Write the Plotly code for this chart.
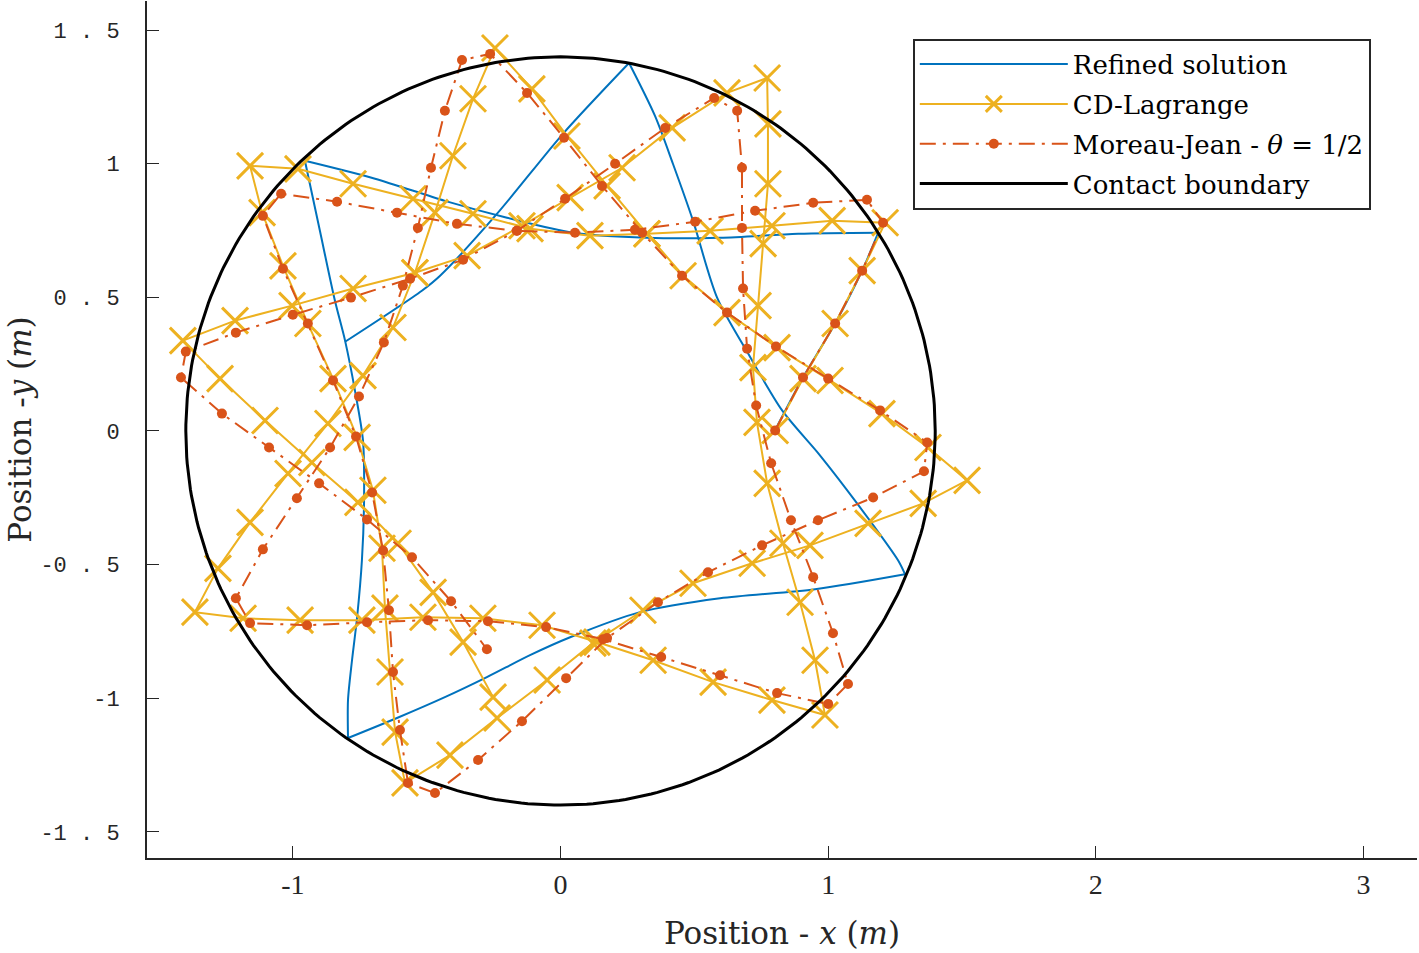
import numpy as np
import plotly.graph_objects as go

# Refined solution (blue)
refined_x = [0.80, 0.906, 1.026, 1.127, 1.187, 0.888, 0.596, 0.323, 0.047, -0.200, -0.432, -0.693,
             -0.955, -0.899, -0.843, -0.805, -0.768, -0.738, -0.734, -0.742, -0.760, -0.779, -0.794,
             -0.794, -0.611, -0.432, -0.275, -0.114, 0.036, 0.297, 0.596, 0.951, 1.287, 1.261, 1.108,
             0.970, 0.828, 0.701, 0.585, 0.495, 0.420, 0.353, 0.256, 0.009, -0.237, -0.450, -0.518,
             -0.805]
refined_y = [0.00, 0.200, 0.402, 0.600, 0.742, 0.738, 0.723, 0.723, 0.742, 0.798, 0.861, 0.944,
             1.011, 0.749, 0.488, 0.338, 0.151, -0.036, -0.260, -0.484, -0.697, -0.858, -1.007,
             -1.149, -1.074, -0.996, -0.921, -0.839, -0.772, -0.678, -0.626, -0.592, -0.536, -0.484,
             -0.271, -0.092, 0.077, 0.290, 0.499, 0.787, 1.000, 1.179, 1.377, 1.112, 0.813, 0.581,
             0.525, 0.334]
# indices of the impacts on the boundary in the refined solution
refined_impacts = [4, 12, 23, 32, 42]

# CD-Lagrange (yellow, x markers)
cd_x = [0.802, 0.906, 1.026, 1.127, 1.213, 1.015, 0.790, 0.559, 0.323, 0.110, -0.114, -0.327,
        -0.551, -0.775, -0.981, -1.160, -1.115, -1.037, -0.944, -0.850, -0.760, -0.701, -0.667,
        -0.656, -0.637, -0.618, -0.581, -0.413, -0.237, -0.050, 0.121, 0.308, 0.495, 0.716, 0.932,
        1.149, 1.355, 1.519, 1.373, 1.201, 1.007, 0.809, 0.622, 0.458, 0.323, 0.174, 0.024, -0.107,
        -0.245, -0.327, -0.402, -0.469, -0.544, -0.626, -0.738, -0.869, -1.018, -1.160, -1.280,
        -1.366, -1.186, -0.973, -0.742, -0.514, -0.290, -0.069, 0.136, 0.346, 0.570, 0.790, 0.988,
        0.951, 0.895, 0.831, 0.772, 0.734, 0.719, 0.738, 0.757, 0.775, 0.775, 0.772, 0.622, 0.417,
        0.230, 0.036, -0.144, -0.349, -0.544, -0.775, -1.003, -1.216, -1.411, -1.272, -1.104,
        -0.929, -0.757, -0.607, -0.476, -0.364, -0.252]
cd_y = [0.002, 0.196, 0.402, 0.600, 0.779, 0.787, 0.768, 0.749, 0.738, 0.731, 0.757, 0.813,
        0.869, 0.925, 0.981, 0.992, 0.817, 0.618, 0.402, 0.196, -0.024, -0.222, -0.439, -0.663,
        -0.902, -1.127, -1.317, -1.213, -1.074, -0.932, -0.794, -0.671, -0.570, -0.495, -0.428,
        -0.346, -0.271, -0.185, -0.062, 0.065, 0.189, 0.312, 0.443, 0.581, 0.738, 0.917, 1.104,
        1.280, 1.433, 1.243, 1.030, 0.817, 0.592, 0.387, 0.207, 0.028, -0.159, -0.342, -0.514,
        -0.678, -0.701, -0.708, -0.708, -0.697, -0.701, -0.727, -0.790, -0.858, -0.940, -1.007,
        -1.063, -0.858, -0.641, -0.420, -0.196, 0.032, 0.237, 0.469, 0.701, 0.925, 1.149, 1.321,
        1.265, 1.134, 0.985, 0.873, 0.768, 0.656, 0.592, 0.533, 0.469, 0.413, 0.338, 0.196, 0.039,
        -0.118, -0.267, -0.420, -0.604, -0.790, -0.996]

# Moreau-Jean theta = 1/2 (red, dots)
mj_x = [0.802, 0.906, 1.026, 1.127, 1.205, 1.145, 0.944, 0.727, 0.503, 0.278, 0.054, -0.163,
        -0.387, -0.611, -0.835, -1.044, -1.112, -1.037, -0.944, -0.850, -0.764, -0.704, -0.663,
        -0.641, -0.626, -0.600, -0.570, -0.469, -0.308, -0.144, 0.021, 0.174, 0.364, 0.551, 0.753,
        0.962, 1.168, 1.358, 1.370, 1.194, 1.000, 0.805, 0.622, 0.454, 0.305, 0.155, 0.013, -0.125,
        -0.263, -0.368, -0.432, -0.484, -0.533, -0.589, -0.660, -0.753, -0.861, -0.985, -1.112,
        -1.213, -1.160, -0.947, -0.723, -0.495, -0.271, -0.054, 0.159, 0.376, 0.596, 0.809, 1.000,
        1.074, 1.018, 0.944, 0.861, 0.787, 0.731, 0.697, 0.682, 0.678, 0.678, 0.660, 0.574, 0.391,
        0.204, 0.017, -0.163, -0.364, -0.562, -0.783, -1.000, -1.213, -1.400, -1.418, -1.265,
        -1.089, -0.902, -0.723, -0.555, -0.409, -0.275]
mj_y = [0.002, 0.200, 0.402, 0.600, 0.779, 0.865, 0.854, 0.824, 0.783, 0.753, 0.742, 0.749,
        0.775, 0.817, 0.858, 0.888, 0.805, 0.607, 0.402, 0.189, -0.021, -0.230, -0.447, -0.671,
        -0.902, -1.119, -1.317, -1.355, -1.231, -1.086, -0.925, -0.775, -0.641, -0.529, -0.428,
        -0.334, -0.249, -0.151, -0.043, 0.077, 0.196, 0.316, 0.443, 0.581, 0.742, 0.917, 1.097,
        1.265, 1.411, 1.388, 1.198, 0.985, 0.760, 0.544, 0.331, 0.129, -0.062, -0.252, -0.443,
        -0.626, -0.719, -0.727, -0.716, -0.708, -0.712, -0.734, -0.779, -0.846, -0.914, -0.981,
        -1.022, -0.947, -0.757, -0.547, -0.334, -0.121, 0.095, 0.308, 0.533, 0.760, 0.985, 1.198,
        1.246, 1.134, 1.000, 0.869, 0.749, 0.641, 0.570, 0.499, 0.435, 0.368, 0.297, 0.200, 0.065,
        -0.062, -0.196, -0.331, -0.473, -0.637, -0.817]

BOUNDARY_RADIUS = 1.4

x_ticks = [-1, 0, 1, 2, 3]
x_ticktext = ['-1', '0', '1', '2', '3']
y_ticks = [-1.5, -1, -0.5, 0, 0.5, 1, 1.5]
y_ticktext = ['-1 . 5', '-1', '-0 . 5', '0', '0 . 5', '1', '1 . 5']

BLUE = '#0072BD'
YELLOW = '#EDB120'
RED = '#D95319'
AXIS = '#262626'
SERIF = 'DejaVu Serif'

theta = np.linspace(0, 2 * np.pi, 361)

fig = go.Figure()

# refined solution: smooth flights between impacts, sharp corners at impacts
cuts = [0] + refined_impacts + [len(refined_x) - 1]
for k in range(len(cuts) - 1):
    i0, i1 = cuts[k], cuts[k + 1]
    fig.add_trace(go.Scatter(
        x=refined_x[i0:i1 + 1], y=refined_y[i0:i1 + 1], mode='lines',
        name='Refined solution', legendgroup='a', showlegend=(k == 0),
        line=dict(color=BLUE, width=2, shape='spline', smoothing=0.8),
    ))

fig.add_trace(go.Scatter(
    x=cd_x, y=cd_y, mode='lines+markers', name='CD-Lagrange', legendgroup='b',
    line=dict(color=YELLOW, width=2),
    marker=dict(symbol='x-thin', size=26, line=dict(color=YELLOW, width=3)),
))
fig.add_trace(go.Scatter(
    x=mj_x, y=mj_y, mode='lines+markers', name='Moreau-Jean - <i>θ</i> = 1/2', legendgroup='c',
    line=dict(color=RED, width=2, dash='16px,7px,3px,7px'),
    marker=dict(symbol='circle', size=10, color=RED),
))
fig.add_trace(go.Scatter(
    x=BOUNDARY_RADIUS * np.cos(theta), y=BOUNDARY_RADIUS * np.sin(theta),
    mode='lines', name='Contact boundary', legendgroup='d',
    line=dict(color='black', width=3),
))

fig.update_layout(
    width=1419, height=953,
    margin=dict(l=147, r=2, t=1, b=95),
    plot_bgcolor='white', paper_bgcolor='white',
    legend=dict(
        x=0.603, y=0.956, xanchor='left', yanchor='top',
        font=dict(family=SERIF, size=26, color='black'),
        bordercolor=AXIS, borderwidth=2, bgcolor='white',
        itemwidth=148, tracegroupgap=3,
    ),
    xaxis=dict(
        range=[-1.545, 3.2], tickvals=x_ticks, ticktext=x_ticktext, ticks='inside', ticklen=12,
        tickcolor=AXIS, showline=True, linecolor=AXIS, linewidth=2,
        showgrid=False, zeroline=False,
        tickfont=dict(family='Liberation Serif', size=28, color=AXIS),
        title=dict(text='Position - <i>x</i> (<i>m</i>)', standoff=24,
                   font=dict(family=SERIF, size=31, color=AXIS)),
    ),
    yaxis=dict(
        range=[-1.598, 1.609], tickvals=y_ticks, ticktext=y_ticktext, ticks='inside',
        ticklen=12, tickcolor=AXIS, showline=True, linecolor=AXIS, linewidth=2,
        showgrid=False, zeroline=False, ticklabelstandoff=21,
        tickfont=dict(family='Liberation Mono', size=22, color=AXIS),
        title=dict(text='Position -<i>y</i> (<i>m</i>)', standoff=0,
                   font=dict(family=SERIF, size=31, color=AXIS)),
    ),
)

fig.write_html('out.html', config={'displayModeBar': False},
               post_script="document.body.style.margin='0';document.body.style.overflow='hidden';")
